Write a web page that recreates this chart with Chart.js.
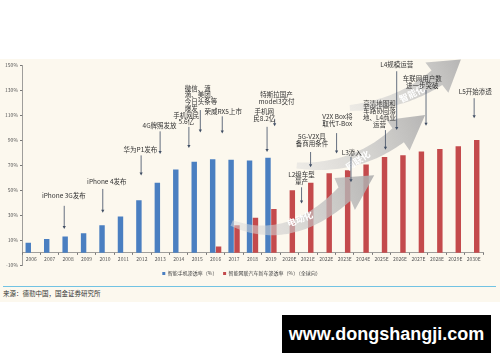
<!DOCTYPE html>
<html>
<head>
<meta charset="utf-8">
<script src="https://cdn.jsdelivr.net/npm/chart.js@4.4.1/dist/chart.umd.min.js"></script>
<style>
    html, body { margin: 0; padding: 0; background: #fff; }
    body { width: 500px; height: 362px; position: relative; overflow: hidden; font-family: "Noto Sans CJK SC", sans-serif; }
    #panel { position: absolute; left: 0; top: 59px; width: 500px; height: 243px; background: #fcf8ee; }
    #box { position: absolute; left: 0; top: 0; width: 500px; height: 227px; }
    #rule { position: absolute; left: 3px; top: 227px; width: 493px; height: 0; border-top: 1.5px solid #71c3e3; }
    #src { position: absolute; left: 3px; top: 229px; font-size: 6.5px; color: #333; }
    #mark { position: absolute; left: 282px; top: 315px; width: 209px; height: 38px; background: #000; color: #fff;
            font: bold 18px "Liberation Sans", sans-serif; display: flex; align-items: center; justify-content: center; }
</style>
</head>
<body>
<div id="panel">
    <div id="box"><canvas id="growthChart"></canvas></div>
    <div id="rule"></div>
    <div id="src">来源：德勤中国，国金证券研究所</div>
</div>
<div id="mark">www.dongshangji.com</div>

<script>
// 年份（E = 预测）
const years = ['2006', '2007', '2008', '2009', '2010', '2011', '2012', '2013', '2014', '2015', '2016', '2017', '2018', '2019',
    '2020E', '2021E', '2022E', '2023E', '2024E', '2025E', '2026E', '2027E', '2028E', '2029E', '2030E'];

// 智能手机渗透率 (%)
const phoneRate = [8, 11, 13, 15.7, 22, 29, 42, 56, 66.5, 72.7, 74.8, 74.3, 73.8, 76,
    null, null, null, null, null, null, null, null, null, null, null];

// 智能网联汽车新车渗透率 (%)
const carRate = [null, null, null, null, null, null, null, null, null, null,
    5, 22, 28, 35, 50, 56, 63.5, 66, 70.5, 76.5, 78, 81, 83, 85, 90];

const yTicks = [-10, 10, 30, 50, 70, 90, 110, 130, 150];

// 事件标注: 文字行, 文字位置(类目序号, %), 箭头(类目序号, 起点%, 终点%)
const notes = [
    { text: ['iPhone 3G发布'], tx: 1.77, ty: 45.4, ax: 1.79, from: 37.5, to: 19 },
    { text: ['iPhone 4发布'], tx: 4.1, ty: 57, ax: 3.88, from: 51, to: 32 },
    { text: ['华为P1发布'], tx: 5.92, ty: 82.7, ax: 5.96, from: 77.8, to: 61.7 },
    { text: ['4G牌照发放'], tx: 6.96, ty: 102, ax: 6.99, from: 97, to: 79 },
    { text: ['微信、滴', '滴、美团、', '今日头条等', '爆发'], tx: 8.32, ty: 131.6, ax: 9.17, from: 114, to: 96, left: true },
    { text: ['手机网民', '5.6亿'], tx: 8.41, ty: 110, ax: 8.55, from: 100.6, to: 83.7 },
    { text: ['荣威RX5上市'], tx: 10.41, ty: 112.7, ax: 10.36, from: 109, to: 95.3 },
    { text: ['特斯拉国产', 'model3交付'], tx: 13.3, ty: 126.2, ax: 13.2, from: 107, to: 101 },
    { text: ['手机网', '民8.2亿'], tx: 12.64, ty: 112.7, ax: 12.79, from: 100.6, to: 80.5 },
    { text: ['5G-V2X具', '备商用条件'], tx: 15.22, ty: 92.6, ax: 15.15, from: 80.5, to: 68.4 },
    { text: ['L2级车型', '量产'], tx: 14.66, ty: 62.7, ax: 14.66, from: 52.3, to: 39.4 },
    { text: ['V2X Box将', '取代T-Box'], tx: 16.6, ty: 108.7, ax: 16.56, from: 95.6, to: 79.4 },
    { text: ['L3渗入'], tx: 17.38, ty: 80, ax: 17.34, from: 76.5, to: 56.3 },
    { text: ['高清地图和', '车路协同落', '地、L4商业', '运营'], tx: 18.89, ty: 119, ax: 19.21, from: 98, to: 82.4 },
    { text: ['L4规模运营'], tx: 19.82, ty: 150.4, ax: 19.82, from: 145, to: 98 },
    { text: ['车联网用户数', '进一步突破'], tx: 21.21, ty: 139.1, ax: 21.41, from: 130, to: 101.5 },
    { text: ['L5开始渗透'], tx: 24.08, ty: 128.9, ax: 24.02, from: 123.5, to: 107.4 }
];

// 灰色趋势箭头: 尾部, 控制点, 箭头根部, 箭尖 (类目序号, %)
const trends = [
    { label: '电动化', tail: [10.87, 23.8], ctrl: [14.0, 5], base: [17.0, 47], tip: [18.6, 62], mid: [14.57, 27], rot: -0.36 },
    { label: '网联化', tail: [14.4, 69.8], ctrl: [17.55, 65.7], base: [19.9, 93.9], tip: [21.36, 110.1], mid: [17.72, 73.8], rot: -0.6 },
    { label: '智能化', tail: [17.28, 115.7], ctrl: [20.0, 118.1], base: [22.0, 139.9], tip: [23.3, 154.4], mid: [20.65, 127], rot: -0.45 }
];

function drawSwoosh(ctx, p0, c, p1, tip, w0, w1, wh) {
    const N = 40, L = [], R = [];
    for (let k = 0; k <= N; k++) {
        const t = k / N, mt = 1 - t;
        const bx = mt * mt * p0[0] + 2 * mt * t * c[0] + t * t * p1[0];
        const by = mt * mt * p0[1] + 2 * mt * t * c[1] + t * t * p1[1];
        const dx = 2 * mt * (c[0] - p0[0]) + 2 * t * (p1[0] - c[0]);
        const dy = 2 * mt * (c[1] - p0[1]) + 2 * t * (p1[1] - c[1]);
        const len = Math.hypot(dx, dy) || 1;
        const nx = -dy / len, ny = dx / len;
        const w = w0 + (w1 - w0) * t;
        L.push([bx + nx * w, by + ny * w]);
        R.push([bx - nx * w, by - ny * w]);
    }
    const hx = tip[0] - p1[0], hy = tip[1] - p1[1], hl = Math.hypot(hx, hy);
    const hnx = -hy / hl, hny = hx / hl;
    const g = ctx.createLinearGradient(p0[0], p0[1], tip[0], tip[1]);
    g.addColorStop(0, 'rgba(220,220,220,0.5)');
    g.addColorStop(1, 'rgba(172,172,172,0.88)');
    ctx.beginPath();
    ctx.moveTo(L[0][0], L[0][1]);
    L.forEach(p => ctx.lineTo(p[0], p[1]));
    ctx.lineTo(p1[0] + hnx * wh, p1[1] + hny * wh);
    ctx.lineTo(tip[0], tip[1]);
    ctx.lineTo(p1[0] - hnx * wh, p1[1] - hny * wh);
    for (let k = R.length - 1; k >= 0; k--) ctx.lineTo(R[k][0], R[k][1]);
    ctx.closePath();
    ctx.fillStyle = g;
    ctx.fill();
}

const overlay = {
    id: 'overlay',
    afterDatasetsDraw(chart) {
        const { ctx, scales: { x, y } } = chart;
        const pt = p => [x.getPixelForValue(p[0]), y.getPixelForValue(p[1])];
        ctx.save();

        // 趋势箭头
        trends.forEach(a => {
            drawSwoosh(ctx, pt(a.tail), pt(a.ctrl), pt(a.base), pt(a.tip), 3, 9, 19);
            const m = pt(a.mid);
            ctx.save();
            ctx.translate(m[0], m[1]);
            ctx.rotate(a.rot);
            ctx.font = 'bold 9px "Noto Sans CJK SC"';
            ctx.fillStyle = '#fff';
            ctx.textAlign = 'center';
            ctx.textBaseline = 'middle';
            ctx.fillText(a.label, 0, 0);
            ctx.restore();
        });

        // 事件标注
        ctx.font = '6.5px "Noto Sans CJK SC"';
        ctx.textBaseline = 'middle';
        notes.forEach(n => {
            const tx = x.getPixelForValue(n.tx), ty = y.getPixelForValue(n.ty);
            ctx.fillStyle = '#333';
            ctx.textAlign = n.left ? 'left' : 'center';
            n.text.forEach((line, i) => ctx.fillText(line, tx, ty + i * 6.8));

            const ax = x.getPixelForValue(n.ax);
            const a0 = y.getPixelForValue(n.from), a1 = y.getPixelForValue(n.to);
            ctx.strokeStyle = '#3f4d63';
            ctx.fillStyle = '#3f4d63';
            ctx.lineWidth = 0.8;
            ctx.beginPath();
            ctx.moveTo(ax, a0);
            ctx.lineTo(ax, a1 - 2.5);
            ctx.stroke();
            ctx.beginPath();
            ctx.moveTo(ax - 1.6, a1 - 3);
            ctx.lineTo(ax + 1.6, a1 - 3);
            ctx.lineTo(ax, a1);
            ctx.closePath();
            ctx.fill();
        });
        ctx.restore();
    }
};

Chart.defaults.font.family = '"Noto Sans CJK SC", sans-serif';

new Chart(document.getElementById('growthChart'), {
    type: 'bar',
    data: {
        labels: years,
        datasets: [{
            label: '智能手机渗透率（%）',
            data: phoneRate,
            backgroundColor: '#4a7fc1',
            categoryPercentage: 0.64,
            barPercentage: 0.92
        }, {
            label: '智能网联汽车新车渗透率（%）（全球向）',
            data: carRate,
            backgroundColor: '#c44a4c',
            categoryPercentage: 0.64,
            barPercentage: 0.92
        }]
    },
    options: {
        responsive: true,
        maintainAspectRatio: false,
        animation: false,
        layout: { padding: { top: 6, right: 17, left: 0, bottom: 0 } },
        plugins: {
            legend: {
                position: 'bottom',
                labels: { boxWidth: 3, boxHeight: 3, padding: 5.7, color: '#444', font: { size: 5 } }
            },
            tooltip: { enabled: false }
        },
        scales: {
            x: {
                position: { y: 0 },
                grid: { drawOnChartArea: false, drawTicks: true, tickLength: 2, color: '#777' },
                border: { color: '#777', width: 0.7 },
                ticks: { font: { size: 5 }, color: '#555', padding: 1, maxRotation: 0, autoSkip: false }
            },
            y: {
                min: -10,
                max: 150,
                afterFit: s => { s.width = 22; },
                afterBuildTicks: s => { s.ticks = yTicks.map(v => ({ value: v })); },
                grid: { drawOnChartArea: false, drawTicks: true, tickLength: 2, color: '#777' },
                border: { color: '#777', width: 0.7 },
                ticks: { font: { size: 5 }, color: '#555', padding: 2, callback: v => v + '%' }
            }
        }
    },
    plugins: [overlay]
});
</script>
</body>
</html>
